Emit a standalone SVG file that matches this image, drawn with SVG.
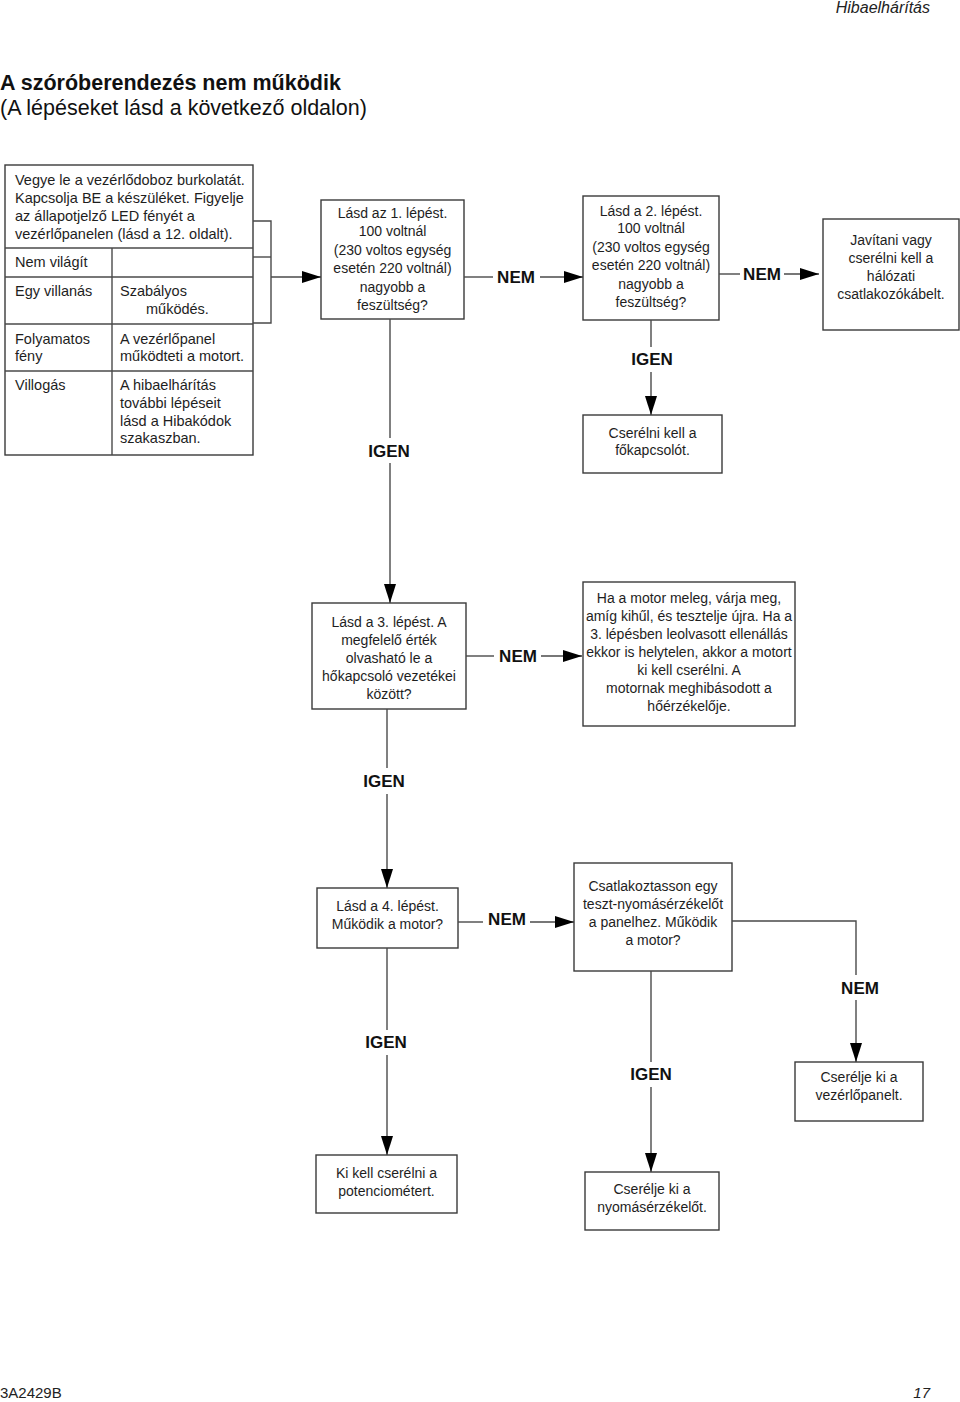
<svg xmlns="http://www.w3.org/2000/svg" width="960" height="1402" viewBox="0 0 960 1402">
<defs>
<style>
.box{fill:#fff;stroke:#3a3a3a;stroke-width:1.4}
.ln{fill:none;stroke:#4a4a4a;stroke-width:1.4}
.t{font-family:"Liberation Sans",Arial,sans-serif;font-size:14px;fill:#1e1e1e}
.tt{font-family:"Liberation Sans",Arial,sans-serif;font-size:14.5px;fill:#1e1e1e}
.c{text-anchor:middle}
.lb{font-family:"Liberation Sans",Arial,sans-serif;font-size:17px;font-weight:bold;fill:#111;text-anchor:middle}
</style>
<marker id="ar" markerWidth="20" markerHeight="14" refX="19" refY="6" orient="auto" markerUnits="userSpaceOnUse">
<path d="M0,0 L19,6 L0,12 Z" fill="#000"/>
</marker>
</defs>
<rect width="960" height="1402" fill="#fff"/>

<text x="930" y="13" text-anchor="end" style="font-family:'Liberation Sans',Arial,sans-serif;font-size:16px;font-style:italic;fill:#222">Hibaelhárítás</text>
<text x="0" y="90" style="font-family:'Liberation Sans',Arial,sans-serif;font-size:21.5px;font-weight:bold;fill:#111">A szóróberendezés nem működik</text>
<text x="0" y="115" style="font-family:'Liberation Sans',Arial,sans-serif;font-size:21.5px;fill:#111">(A lépéseket lásd a következő oldalon)</text>

<g id="table">
<rect class="box" x="5" y="165" width="248" height="290"/>
<line class="ln" x1="5" y1="248" x2="253" y2="248"/>
<line class="ln" x1="5" y1="277" x2="253" y2="277"/>
<line class="ln" x1="5" y1="324" x2="253" y2="324"/>
<line class="ln" x1="5" y1="371" x2="253" y2="371"/>
<line class="ln" x1="112" y1="248" x2="112" y2="455"/>
<text class="tt" x="15" y="185">Vegye le a vezérlődoboz burkolatát.</text>
<text class="tt" x="15" y="203">Kapcsolja BE a készüléket. Figyelje</text>
<text class="tt" x="15" y="221">az állapotjelző LED fényét a</text>
<text class="tt" x="15" y="239">vezérlőpanelen (lásd a 12. oldalt).</text>
<text class="tt" x="15" y="267">Nem világít</text>
<text class="tt" x="15" y="296">Egy villanás</text>
<text class="tt" x="120" y="296">Szabályos</text>
<text class="tt" x="146" y="314">működés.</text>
<text class="tt" x="15" y="344">Folyamatos</text>
<text class="tt" x="15" y="361">fény</text>
<text class="tt" x="120" y="344">A vezérlőpanel</text>
<text class="tt" x="120" y="361">működteti a motort.</text>
<text class="tt" x="15" y="390">Villogás</text>
<text class="tt" x="120" y="390">A hibaelhárítás</text>
<text class="tt" x="120" y="408">további lépéseit</text>
<text class="tt" x="120" y="426">lásd a Hibakódok</text>
<text class="tt" x="120" y="443">szakaszban.</text>
</g>

<g id="step1">
<rect class="box" x="321" y="200" width="143" height="119"/>
<text class="t c" x="392.5" y="218">Lásd az 1. lépést.</text>
<text class="t c" x="392.5" y="236">100 voltnál</text>
<text class="t c" x="392.5" y="255">(230 voltos egység</text>
<text class="t c" x="392.5" y="273">esetén 220 voltnál)</text>
<text class="t c" x="392.5" y="292">nagyobb a</text>
<text class="t c" x="392.5" y="310">feszültség?</text>
</g>

<g id="step2">
<rect class="box" x="583" y="196" width="136" height="124"/>
<text class="t c" x="651" y="216">Lásd a 2. lépést.</text>
<text class="t c" x="651" y="233">100 voltnál</text>
<text class="t c" x="651" y="252">(230 voltos egység</text>
<text class="t c" x="651" y="270">esetén 220 voltnál)</text>
<text class="t c" x="651" y="289">nagyobb a</text>
<text class="t c" x="651" y="307">feszültség?</text>
</g>

<g id="cable">
<rect class="box" x="823" y="219" width="136" height="111"/>
<text class="t c" x="891" y="245">Javítani vagy</text>
<text class="t c" x="891" y="263">cserélni kell a</text>
<text class="t c" x="891" y="281">hálózati</text>
<text class="t c" x="891" y="299">csatlakozókábelt.</text>
</g>

<g id="mainswitch">
<rect class="box" x="583" y="415" width="139" height="58"/>
<text class="t c" x="652.5" y="438">Cserélni kell a</text>
<text class="t c" x="652.5" y="455">főkapcsolót.</text>
</g>

<g id="step3">
<rect class="box" x="312" y="603" width="154" height="106"/>
<text class="t c" x="389" y="627">Lásd a 3. lépést. A</text>
<text class="t c" x="389" y="645">megfelelő érték</text>
<text class="t c" x="389" y="663">olvasható le a</text>
<text class="t c" x="389" y="681">hőkapcsoló vezetékei</text>
<text class="t c" x="389" y="699">között?</text>
</g>

<g id="motor">
<rect class="box" x="583" y="582" width="212" height="144"/>
<text class="t c" x="689" y="603">Ha a motor meleg, várja meg,</text>
<text class="t c" x="689" y="621">amíg kihűl, és tesztelje újra. Ha a</text>
<text class="t c" x="689" y="639">3. lépésben leolvasott ellenállás</text>
<text class="t c" x="689" y="657">ekkor is helytelen, akkor a motort</text>
<text class="t c" x="689" y="675">ki kell cserélni. A</text>
<text class="t c" x="689" y="693">motornak meghibásodott a</text>
<text class="t c" x="689" y="711">hőérzékelője.</text>
</g>

<g id="step4">
<rect class="box" x="317" y="888" width="141" height="60"/>
<text class="t c" x="387.5" y="911">Lásd a 4. lépést.</text>
<text class="t c" x="387.5" y="929">Működik a motor?</text>
</g>

<g id="testsensor">
<rect class="box" x="574" y="863" width="158" height="108"/>
<text class="t c" x="653" y="891">Csatlakoztasson egy</text>
<text class="t c" x="653" y="909">teszt-nyomásérzékelőt</text>
<text class="t c" x="653" y="927">a panelhez. Működik</text>
<text class="t c" x="653" y="945">a motor?</text>
</g>

<g id="board">
<rect class="box" x="795" y="1062" width="128" height="59"/>
<text class="t c" x="859" y="1082">Cserélje ki a</text>
<text class="t c" x="859" y="1100">vezérlőpanelt.</text>
</g>

<g id="pot">
<rect class="box" x="316" y="1155" width="141" height="58"/>
<text class="t c" x="386.5" y="1178">Ki kell cserélni a</text>
<text class="t c" x="386.5" y="1196">potenciométert.</text>
</g>

<g id="sensor">
<rect class="box" x="585" y="1172" width="134" height="58"/>
<text class="t c" x="652" y="1194">Cserélje ki a</text>
<text class="t c" x="652" y="1212">nyomásérzékelőt.</text>
</g>

<g id="connectors">
<polyline class="ln" points="253,221 271,221 271,323 253,323"/>
<line class="ln" x1="253" y1="257" x2="271" y2="257"/>
<line class="ln" x1="271" y1="277" x2="321" y2="277" marker-end="url(#ar)"/>

<line class="ln" x1="464" y1="277" x2="493" y2="277"/>
<line class="ln" x1="540" y1="277" x2="583" y2="277" marker-end="url(#ar)"/>

<line class="ln" x1="719" y1="274" x2="740" y2="274"/>
<line class="ln" x1="784" y1="274" x2="819" y2="274" marker-end="url(#ar)"/>

<line class="ln" x1="651" y1="320" x2="651" y2="347"/>
<line class="ln" x1="651" y1="372" x2="651" y2="415" marker-end="url(#ar)"/>

<line class="ln" x1="390" y1="319" x2="390" y2="438"/>
<line class="ln" x1="390" y1="463" x2="390" y2="603" marker-end="url(#ar)"/>

<line class="ln" x1="466" y1="656" x2="494" y2="656"/>
<line class="ln" x1="541" y1="656" x2="582" y2="656" marker-end="url(#ar)"/>

<line class="ln" x1="387" y1="709" x2="387" y2="768"/>
<line class="ln" x1="387" y1="794" x2="387" y2="888" marker-end="url(#ar)"/>

<line class="ln" x1="458" y1="922" x2="483" y2="922"/>
<line class="ln" x1="530" y1="922" x2="574" y2="922" marker-end="url(#ar)"/>

<polyline class="ln" points="732,921 856,921 856,975"/>
<line class="ln" x1="856" y1="1000" x2="856" y2="1062" marker-end="url(#ar)"/>

<line class="ln" x1="387" y1="948" x2="387" y2="1030"/>
<line class="ln" x1="387" y1="1055" x2="387" y2="1155" marker-end="url(#ar)"/>

<line class="ln" x1="651" y1="971" x2="651" y2="1062"/>
<line class="ln" x1="651" y1="1087" x2="651" y2="1172" marker-end="url(#ar)"/>

<text class="lb" x="516" y="283">NEM</text>
<text class="lb" x="762" y="280">NEM</text>
<text class="lb" x="652" y="365">IGEN</text>
<text class="lb" x="389" y="457">IGEN</text>
<text class="lb" x="518" y="662">NEM</text>
<text class="lb" x="384" y="787">IGEN</text>
<text class="lb" x="507" y="925">NEM</text>
<text class="lb" x="860" y="994">NEM</text>
<text class="lb" x="386" y="1048">IGEN</text>
<text class="lb" x="651" y="1080">IGEN</text>
</g>

<text x="0" y="1398" style="font-family:'Liberation Sans',Arial,sans-serif;font-size:15px;fill:#222">3A2429B</text>
<text x="930" y="1398" text-anchor="end" style="font-family:'Liberation Sans',Arial,sans-serif;font-size:15px;font-style:italic;fill:#222">17</text>
</svg>
